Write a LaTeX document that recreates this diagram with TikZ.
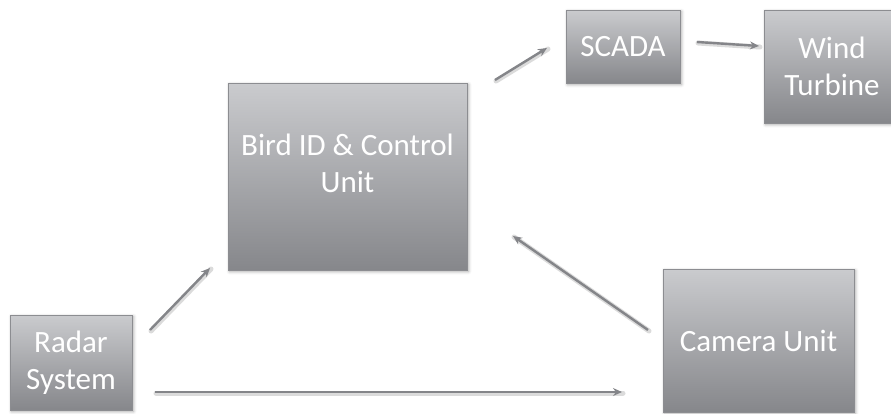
\documentclass[tikz,border=0pt]{standalone}
\usepackage{fontspec}
\setmainfont{Carlito}
\usetikzlibrary{arrows.meta,shadows.blur,calc}

\definecolor{boxtop}{RGB}{202,203,206}
\definecolor{boxbot}{RGB}{134,135,139}
\definecolor{boxedge}{RGB}{140,141,145}
\definecolor{flow}{RGB}{132,133,137}

\tikzset{
  unitbox/.style={
    rectangle, draw=boxedge, line width=0.8pt,
    top color=boxtop, bottom color=boxbot,
    blur shadow={shadow xshift=1.5pt, shadow yshift=-1.5pt,
                 shadow blur radius=3pt, shadow opacity=35},
    inner sep=0pt, outer sep=0pt,
    text=white, font=\fontsize{31}{37}\selectfont, align=center},
  boxlabel/.style={text=white, font=\fontsize{31}{37}\selectfont,
    align=center, inner sep=0pt},
  flowglow/.style={line width=5pt, draw=black!14, line cap=round},
  flowline/.style={line width=2.4pt, draw=flow,
    -{Stealth[length=9pt,width=8pt]}},
}

\begin{document}
\begin{tikzpicture}[x=1pt,y=-1pt]
\useasboundingbox (0,0) rectangle (891,413);

% blocks
\node[unitbox, minimum width=122pt, minimum height=95pt]  (radar)  at (71,362.5)  {Radar\\System};
\node[unitbox, minimum width=239pt, minimum height=187pt] (bird)   at (347.5,176.5) {};
\node[boxlabel] (birdtxt) at ([yshift=13pt]bird.center) {Bird ID \& Control\\Unit};
\node[unitbox, minimum width=114pt, minimum height=73pt]  (scada)  at (623,46.5)  {SCADA};
\node[unitbox, minimum width=136pt, minimum height=113pt] (wind)   at (832,66.5)  {Wind\\Turbine};
\node[unitbox, minimum width=191pt, minimum height=143pt] (camera) at (758.5,340.5) {Camera Unit};

% connector end points, offset from the blocks (y grows downwards)
\coordinate (r2b-s) at ($(radar.north east)+(18,15)$);
\coordinate (r2b-e) at ($(bird.south west)+(-18,-2)$);
\coordinate (r2c-s) at ($(radar.east)+(23,29.5)$);
\coordinate (r2c-e) at ($(camera.south west)+(-41,-20)$);
\coordinate (c2b-s) at ($(camera.north west)+(-15,61)$);
\coordinate (c2b-e) at ($(bird.south east)+(46,-34)$);
\coordinate (b2s-s) at ($(bird.north east)+(28,-3)$);
\coordinate (b2s-e) at ($(scada.north west)+(-19,38)$);
\coordinate (s2w-s) at ($(scada.east)+(17,-4.5)$);
\coordinate (s2w-e) at ($(wind.north west)+(-5,36)$);

% soft halo under the connectors
\foreach \a/\b in {r2b-s/r2b-e, r2c-s/r2c-e, c2b-s/c2b-e, b2s-s/b2s-e, s2w-s/s2w-e}
  \draw[flowglow] ($(\a)+(1,1)$) -- ($(\b)+(1,1)$);

% connectors
\draw[flowline] (r2b-s) -- (r2b-e);
\draw[flowline] (r2c-s) -- (r2c-e);
\draw[flowline] (c2b-s) -- (c2b-e);
\draw[flowline] (b2s-s) -- (b2s-e);
\draw[flowline] (s2w-s) -- (s2w-e);
\end{tikzpicture}
\end{document}
